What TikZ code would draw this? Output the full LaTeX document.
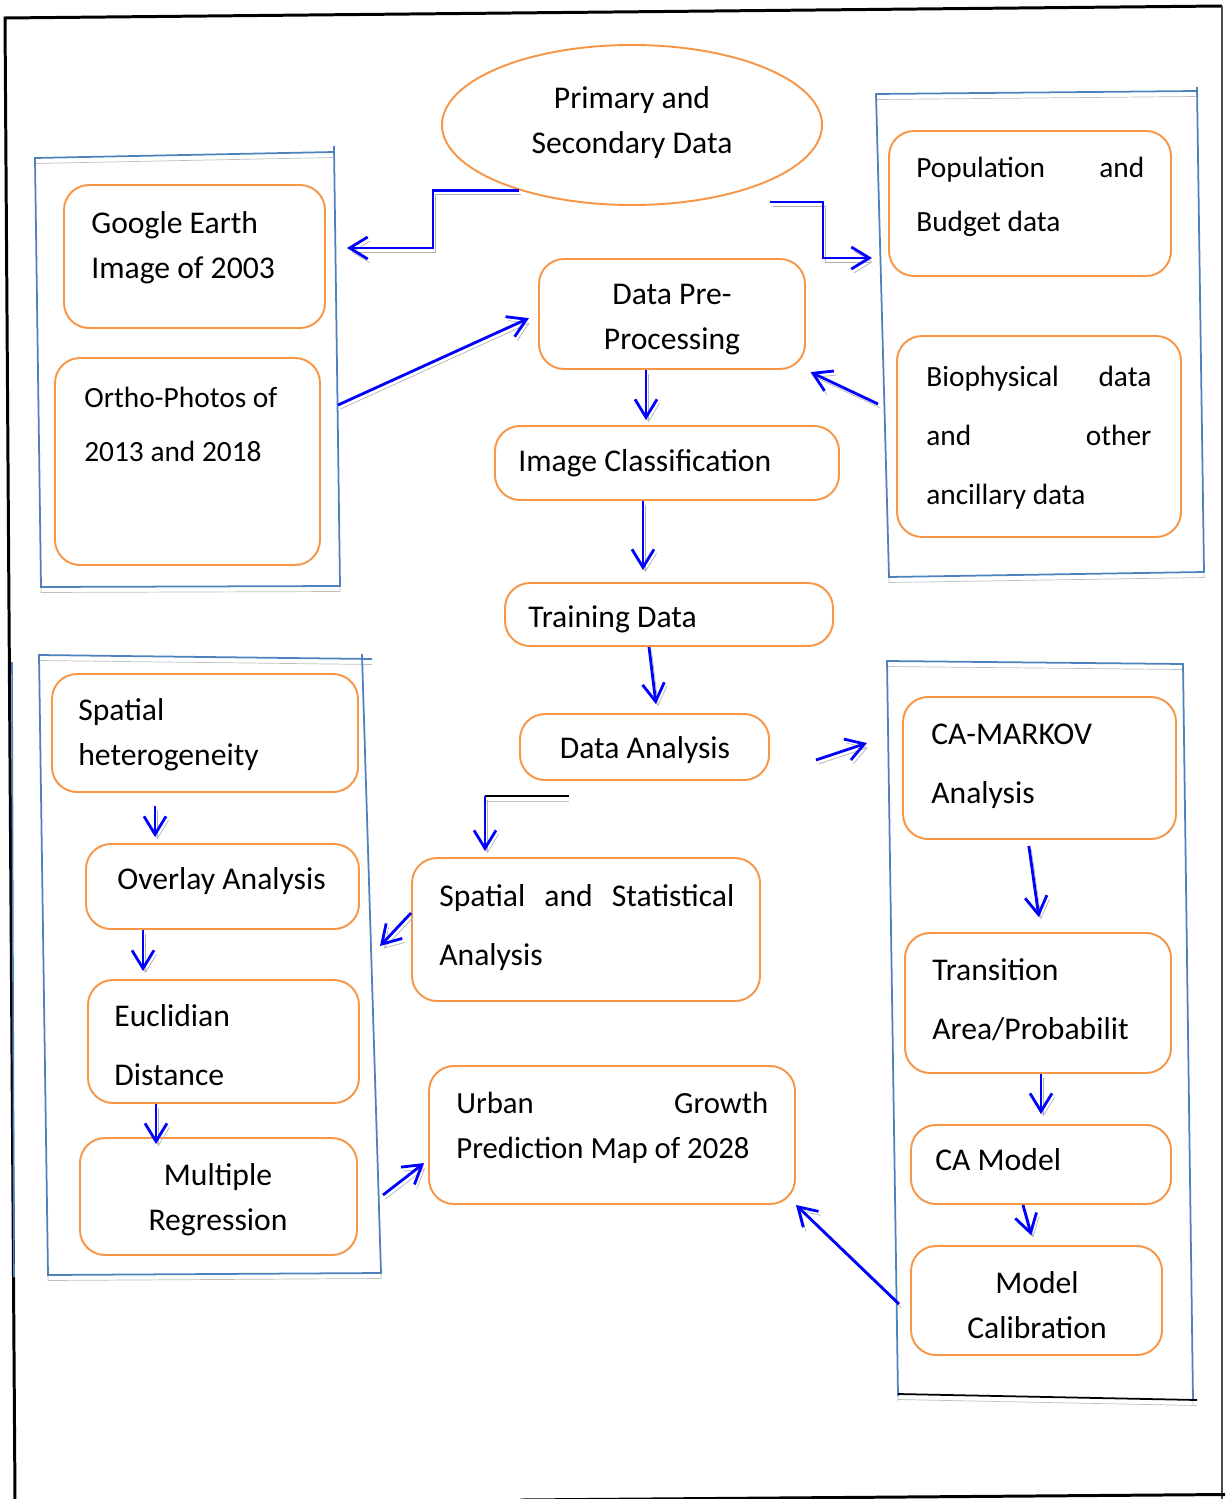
\documentclass[tikz,border=0pt]{standalone}
\usepackage{fontspec}
\setmainfont{Carlito}
\usetikzlibrary{arrows.meta,shapes.geometric,fit}

\definecolor{boxorange}{RGB}{247,150,70}
\definecolor{panelblue}{RGB}{79,129,189}

\tikzset{
	box/.style={draw=boxorange, line width=1.1pt, rounded corners=5mm, inner sep=0pt},
	txt/.style={font=\fontsize{18pt}{#1}\selectfont, inner sep=0pt, align=left},
	txt/.default=25.6pt,
	flow/.style={draw=blue, line width=1.6pt, -{Straight Barb[length=3.6mm,width=4.4mm]},
		preaction={draw=black!30, transform canvas={shift={(0.5mm,-0.8mm)}}}},
	panel/.style={draw=panelblue, line width=1pt,
		preaction={draw=black!25, transform canvas={shift={(0mm,-1.1mm)}}}},
}

\begin{document}
\begin{tikzpicture}[x=0.2mm, y=-0.2mm]
		\useasboundingbox (0,0) rectangle (1225,1499);
		%		\draw[lightgray] (0,0) grid[step=100] (1225,1499);
				\draw[black, line width=1.7pt] (15,1499) -- (5,18) -- (1222,6); % frame
				\draw[black!70, line width=0.8pt] (1222,6) -- (1222,1499);
				\draw[black, line width=1.7pt] (520,1500) -- (1225,1494.5);
				\draw[panelblue, line width=0.9pt] (12,662) -- (14,1277);
				
				\draw[panel] (334,146) -- (340,586) -- (41,587) -- (35,158) -- (334,152); % top left
				\draw[panel] (1197,87) -- (1204,572) -- (889,577) -- (876,94) -- (1197,91); % top right
				\draw[panel] (372,659) -- (39,655) -- (48,1275) -- (381,1273) -- (362,654); % bottom left
				\draw[panel] (898,1396) -- (887,661) -- (1183,664) -- (1193,1400); % bottom right
				\draw[panel, draw=black] (898,1394) -- (1197,1400);
				
				\node[draw=boxorange, line width=1.1pt, ellipse, minimum width=76mm, minimum height=32mm,
					inner sep=0pt] (prim) at (632,125) {};
				\node[txt, align=center] (primtxt) at (632,122.5) {Primary and\\Secondary Data};
				
				\node[box, fit={(64,185) (325,328)}] (google) {};
				\node[txt, anchor=west] (googletxt) at (91,247.5) {Google Earth\\Image of 2003};
				\node[box, fit={(55,358) (320,565)}] (ortho) {};
				\node[txt, font=\fontsize{16.7pt}{30.7pt}\selectfont, anchor=west] (orthotxt) at (84,424.5)
					{Ortho-Photos of\\2013 and 2018};
				
				\node[box, fit={(539,259) (805,369)}] (prep) {};
				\node[txt, align=center] (preptxt) at (672,319.5) {Data Pre-\\Processing};
				\node[box, fit={(495,426) (839,500)}] (imgc) {};
				\node[txt, anchor=west] (imgctxt) at (518,463.5) {Image Classification};
				\node[box, fit={(505,583) (833,646)}] (train) {};
				\node[txt, anchor=west] (traintxt) at (528,619) {Training Data};
				\node[box, fit={(520,714) (769,780)}] (dana) {};
				\node[txt] (danatxt) at (645,750) {Data Analysis};
				
				\node[box, fit={(889,131) (1171,276)}] (pop) {};
				\node[txt, font=\fontsize{16.7pt}{30.7pt}\selectfont, anchor=west] (poptxt)
					at (916,196.5) {\makebox[45.6mm][s]{Population and}\\Budget data};
				\node[box, fit={(897,336) (1181,537)}] (bio) {};
				\node[txt, font=\fontsize{16.7pt}{33.6pt}\selectfont, anchor=west] (biotxt)
					at (926,438) {\makebox[45mm][s]{Biophysical data}\\\makebox[45mm][s]{and other}\\ancillary data};
				
				\node[box, fit={(52,674) (358,792)}] (het) {};
				\node[txt, anchor=west] (hettxt) at (78,734.5) {Spatial\\heterogeneity};
				\node[box, fit={(86,844) (359,929)}] (ovl) {};
				\node[txt, anchor=west] (ovltxt) at (117,881) {Overlay Analysis};
				\node[box, fit={(88,980) (359,1103)}] (eucl) {};
				\node[txt=33.6pt, anchor=west] (eucltxt) at (114,1045.5) {Euclidian\\Distance};
				\node[box, fit={(80,1138) (357,1255)}] (multi) {};
				\node[txt, align=center] (multitxt) at (218,1199.5) {Multiple\\Regression};
				
				\node[box, fit={(412,858) (760,1001)}] (spst) {};
				\node[txt=33.6pt, anchor=west] (spsttxt) at (439,927.5)
					{\makebox[59mm][s]{Spatial and Statistical}\\Analysis};
				\node[box, fit={(429,1066) (795,1204)}] (urban) {};
				\node[txt, font=\fontsize{17.5pt}{25.6pt}\selectfont, anchor=west] (urbantxt)
					at (456,1127.5) {\makebox[62.4mm][s]{Urban Growth}\\Prediction Map of 2028};
				
				\node[box, fit={(903,697) (1176,839)}] (markov) {};
				\node[txt=33.6pt, anchor=west] (markovtxt) at (931,766.5) {CA-MARKOV\\Analysis};
				\node[box, fit={(905,933) (1171,1073)}] (trans) {};
				\node[txt=33.6pt, anchor=west] (transtxt) at (932,999.5) {Transition\\Area/Probabilit};
				\node[box, fit={(911,1125) (1171,1204)}] (camod) {};
				\node[txt, anchor=west] (camodtxt) at (935,1160) {CA Model};
				\node[box, fit={(911,1246) (1162,1355)}] (calib) {};
				\node[txt, align=center] (calibtxt) at (1037,1305.5) {Model\\Calibration};
				
				\coordinate (primout) at (770,202);
				\coordinate (googlein) at (347,248);
				\coordinate (popin) at (872,258);
				\coordinate (orthoout) at (338,405);
				\coordinate (bioout) at (878,404);
				\coordinate (danaout) at (816,760);
				\coordinate (markovin) at (867,743);
				\coordinate (bendstart) at (569,796);
				\coordinate (bend) at (485,796);
				\coordinate (leftin) at (380,946);
				\coordinate (leftout) at (383,1195);
				\coordinate (calibout) at (899,1304);
				
				\draw[flow] (prim.210) -| (433,248) -- (googlein); % to google
				\draw[flow] (primout) -| (823,258) -- (popin); % to population
				\draw[flow, shorten >=2mm] (orthoout) -- (prep.west);
				\draw[flow, shorten >=1mm] (bioout) -- (prep.south east);
				\draw[flow, shorten >=1mm] (646,0 |- prep.south) -- (646,0 |- imgc.north);
				\draw[flow, shorten >=2.4mm] (643,0 |- imgc.south) -- (643,0 |- train.north);
				\draw[flow, shorten >=1.8mm] (649,0 |- train.south) -- (657,0 |- dana.north);
				\draw[flow] (danaout) -- (markovin);
				\draw[panel, draw=black] (bendstart) -- (bend);
				\draw[flow, shorten >=1.2mm] (bend) -- (485,0 |- spst.north);
				\draw[flow] (spst.west |- 0,913) -- (leftin);
				\draw[flow, shorten <=2.6mm, shorten >=1.2mm] (155,0 |- het.south) -- (155,0 |- ovl.north);
				\draw[flow, shorten >=1.6mm] (143,0 |- ovl.south) -- (143,0 |- eucl.north);
				\draw[flow, shorten >=-1.4mm] (156,0 |- eucl.south) -- (156,0 |- multi.north);
				\draw[flow, shorten >=1mm] (leftout) -- (urban.west |- 0,1160);
				\draw[flow] (calibout) -- (urban.south east);
				\draw[flow, shorten <=1.2mm, shorten >=3mm] (1028,0 |- markov.south) -- (1041,0 |- trans.north);
				\draw[flow, shorten >=2mm] (1041,0 |- trans.south) -- (1041,0 |- camod.north);
				\draw[flow, shorten >=2mm] (1023,0 |- camod.south) -- (1034,0 |- calib.north);
				
			\end{tikzpicture}
\end{document}
